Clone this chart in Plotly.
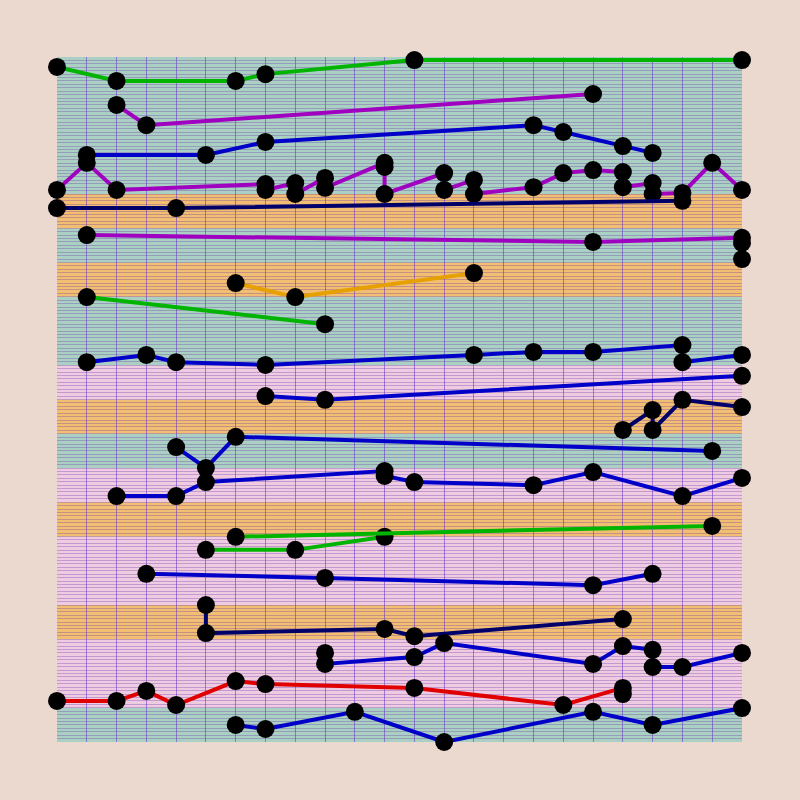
import plotly.graph_objects as go

# ---- data (x = column index, y = value on 0..200 scale) ----
green_top_x = [0, 2, 6, 7, 12, 23]
green_top_y = [197.1, 193.0, 193.0, 195.0, 199.1, 199.1]

purple_a_x = [2, 3, 18]
purple_a_y = [186.0, 180.1, 189.2]

blue_a_x = [1, 5, 7, 16, 17, 19, 20]
blue_a_y = [171.4, 171.4, 175.2, 180.1, 178.1, 174.0, 172.0]

purple_b_x = [0, 1, 2, 7, 7, 8, 8, 9, 9, 11, 11, 11, 13, 13, 14, 14, 16, 17, 18, 19, 19, 20, 20, 21, 22, 23]
purple_b_y = [161.2, 169.1, 161.2, 162.9, 161.2, 163.2, 160.0, 164.7, 161.8, 169.1, 167.9, 160.0,
              166.1, 161.2, 164.1, 160.0, 162.0, 166.1, 167.0, 166.4, 162.0, 163.2, 160.0, 160.3, 169.1, 161.2]

navy_a_x = [0, 4, 21]
navy_a_y = [155.9, 155.9, 158.0]

purple_c_x = [1, 18, 23, 23, 23]
purple_c_y = [148.0, 146.0, 147.2, 145.7, 141.0]

gold_x = [6, 8, 14]
gold_y = [134.0, 129.9, 136.9]

green_b_x = [1, 9]
green_b_y = [129.9, 122.0]

blue_b_x = [1, 3, 4, 7, 14, 16, 18, 21, 21, 23]
blue_b_y = [110.9, 113.0, 110.9, 110.1, 113.0, 113.9, 113.9, 115.9, 110.9, 113.0]

blue_c_x = [7, 9, 23]
blue_c_y = [101.0, 99.9, 106.9]

navy_b_x = [19, 20, 20, 21, 23]
navy_b_y = [91.1, 96.9, 91.1, 99.9, 97.8]

blue_d_x = [4, 5, 6, 22]
blue_d_y = [86.1, 80.0, 89.1, 85.0]

blue_e_x = [2, 4, 5, 11, 11, 12, 16, 18, 21, 23]
blue_e_y = [71.8, 71.8, 75.9, 79.1, 77.7, 75.9, 75.0, 78.8, 71.8, 77.1]

green_c_x = [5, 8, 11]
green_c_y = [56.1, 56.1, 59.9]

green_d_x = [6, 22]
green_d_y = [59.9, 63.1]

blue_f_x = [3, 9, 18, 20]
blue_f_y = [49.1, 47.9, 45.8, 49.1]

navy_c_x = [5, 5, 11, 12, 19]
navy_c_y = [40.0, 31.8, 33.0, 30.9, 35.9]

blue_g_x = [9, 9, 12, 13, 18, 19, 20, 20, 21, 23]
blue_g_y = [26.0, 22.8, 24.8, 28.9, 22.8, 28.0, 26.9, 21.9, 21.9, 26.0]

red_x = [0, 2, 3, 4, 6, 7, 12, 17, 19, 19]
red_y = [12.0, 12.0, 14.9, 10.8, 17.8, 16.9, 15.8, 10.8, 15.8, 14.0]

blue_h_x = [6, 7, 10, 13, 18, 20, 23]
blue_h_y = [5.0, 3.8, 8.8, 0.0, 8.8, 5.0, 9.9]

# background bands, bottom to top, each 10 units tall
band_starts = [0, 10, 20, 30, 40, 50, 60, 70, 80, 90, 100, 110, 120, 130, 140, 150, 160, 170, 180, 190]
band_kinds = ["T", "P", "P", "O", "P", "P", "O", "P", "T", "O",
              "P", "T", "T", "O", "T", "O", "T", "T", "T", "T"]

GREEN = "#00b400"
PURPLE = "#a000c0"
BLUE = "#0000c8"
NAVY = "#00006a"
GOLD = "#e6a000"
RED = "#e00000"
PAPER = "#ebd9d0"
band_colors = {"T": "#a9d0c2", "P": "#efcbe2", "O": "#f2be72"}

series = [
    (green_top_x, green_top_y, GREEN),
    (purple_a_x, purple_a_y, PURPLE),
    (blue_a_x, blue_a_y, BLUE),
    (purple_b_x, purple_b_y, PURPLE),
    (navy_a_x, navy_a_y, NAVY),
    (purple_c_x, purple_c_y, PURPLE),
    (gold_x, gold_y, GOLD),
    (green_b_x, green_b_y, GREEN),
    (blue_b_x, blue_b_y, BLUE),
    (blue_c_x, blue_c_y, BLUE),
    (navy_b_x, navy_b_y, NAVY),
    (blue_d_x, blue_d_y, BLUE),
    (blue_e_x, blue_e_y, BLUE),
    (green_c_x, green_c_y, GREEN),
    (green_d_x, green_d_y, GREEN),
    (blue_f_x, blue_f_y, BLUE),
    (navy_c_x, navy_c_y, NAVY),
    (blue_g_x, blue_g_y, BLUE),
    (red_x, red_y, RED),
    (blue_h_x, blue_h_y, BLUE),
]

fig = go.Figure()
for xs, ys, col in series:
    fig.add_trace(go.Scatter(
        x=xs, y=ys, mode="lines+markers",
        line=dict(color=col, width=4),
        marker=dict(color="black", size=18),
        cliponaxis=False, showlegend=False, hoverinfo="skip",
    ))

shapes = []
for y0, kind in zip(band_starts, band_kinds):
    shapes.append(dict(type="rect", xref="x", yref="y", x0=0, x1=23, y0=y0, y1=y0 + 10,
                       fillcolor=band_colors[kind], line=dict(width=0), layer="below"))

fig.update_layout(
    width=800, height=800,
    paper_bgcolor=PAPER, plot_bgcolor=PAPER,
    margin=dict(l=57, r=58, t=57, b=58),
    shapes=shapes,
    showlegend=False,
    xaxis=dict(range=[0, 23], dtick=1, tick0=0, showgrid=True,
               gridcolor="rgba(100,50,200,0.55)", gridwidth=1,
               zeroline=False, showticklabels=False, ticks="", showline=False),
    yaxis=dict(range=[0, 200], dtick=1, tick0=0, showgrid=True,
               gridcolor="rgba(110,60,170,0.34)", gridwidth=1,
               zeroline=False, showticklabels=False, ticks="", showline=False),
)

fig.write_html(
    "out.html",
    config={"displayModeBar": False},
    post_script="document.body.style.margin='0';document.body.style.background='" + PAPER + "';",
)
